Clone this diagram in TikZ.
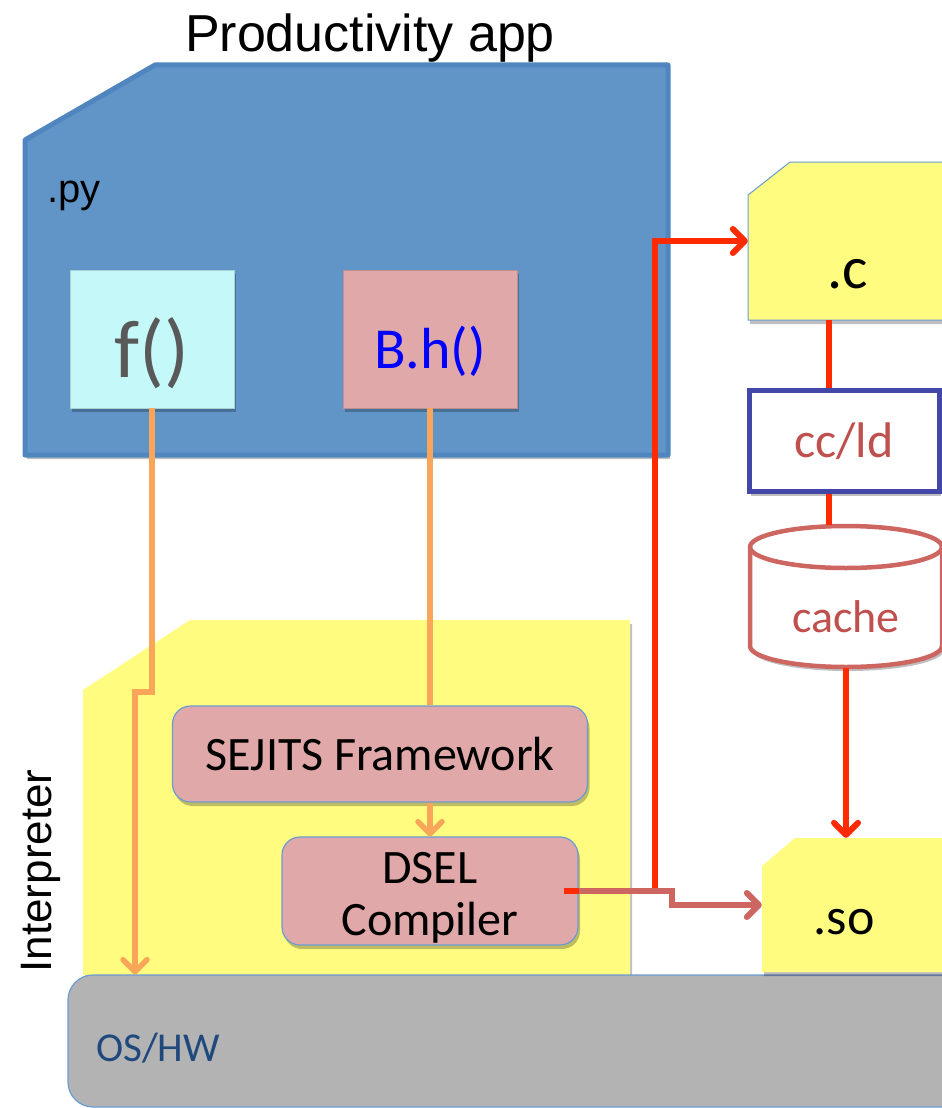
\documentclass[tikz,border=0pt]{standalone}
\usepackage{fontspec}
\setmainfont{Carlito}
\newfontfamily\arialfont{Liberation Sans}
\usetikzlibrary{arrows.meta,shadows}

\definecolor{pyblue}{HTML}{6195C8}
\definecolor{pyedge}{HTML}{5086BF}
\definecolor{fileyellow}{HTML}{FFFC7F}
\definecolor{funccyan}{HTML}{C5F8F8}
\definecolor{dselpink}{HTML}{E0A8A8}
\definecolor{thinblue}{HTML}{6A9BD2}
\definecolor{jitorange}{HTML}{F9A55A}
\definecolor{buildred}{HTML}{FF2A00}
\definecolor{linkrose}{HTML}{CD6560}
\definecolor{ccnavy}{HTML}{4348A8}
\definecolor{cctext}{HTML}{C0504D}
\definecolor{hwgray}{HTML}{B3B3B3}
\definecolor{hwtext}{HTML}{1F497D}
\definecolor{fgray}{HTML}{595959}

\tikzset{
  softshadow/.style={drop shadow={shadow xshift=2pt, shadow yshift=-4pt, opacity=0.25, fill=black}},
  codebox/.style={rectangle, inner sep=0pt, minimum height=138pt, softshadow},
  dselbox/.style={rectangle, rounded corners=18pt, fill=dselpink, draw=thinblue, line width=1.2pt,
    align=center, font=\fontsize{48}{52}\selectfont, softshadow},
  filebox/.style={rectangle, inner sep=0pt},
  filetext/.style={font=\fontsize{60}{60}\selectfont},
  jitlink/.style={jitorange, line width=5.5pt},
  buildlink/.style={buildred, line width=6pt},
  loadlink/.style={linkrose, line width=6pt},
}

\begin{document}
\begin{tikzpicture}[x=1pt, y=-1pt, >={Straight Barb[round, length=12pt, width=24pt]}]
    \useasboundingbox (0,0) rectangle (942,1108);

    \node[font=\arialfont\fontsize{52}{60}\selectfont] (title) at (370,38) {Productivity app};

    % .py file
    \filldraw[fill=pyblue, draw=pyedge, line width=5pt, line join=round, softshadow]
        (25,140) -- (155,65) -- (668,65) -- (668,455) -- (25,455) -- cycle;
    \node[font=\arialfont\fontsize{40}{48}\selectfont, anchor=base west, inner sep=0pt] (py) at (47,202) {.py};
    \node[codebox, fill=funccyan, draw=funccyan!85!black, minimum width=164pt,
        label={[text=fgray, font=\fontsize{82}{82}\selectfont, yshift=-14pt]center:f()}] (f) at (152,339) {};
    \node[codebox, fill=dselpink, draw=dselpink!85!black, minimum width=174pt,
        label={[text=blue, font=\fontsize{58}{58}\selectfont, yshift=-12pt]center:B.h()}] (bh) at (430,339) {};

    % interpreter
    \fill[fileyellow, softshadow] (83,690) -- (190,620) -- (630,620) -- (630,975) -- (83,975) -- cycle;
    \node[dselbox, minimum width=415pt, minimum height=96pt] (sejits) at (380,754) {SEJITS Framework};
    \node[dselbox, minimum width=296pt, minimum height=107pt, inner ysep=0pt,
        text height=98pt, text depth=10pt] (dsel) at (430,891) {DSEL\\Compiler};
    \node[rotate=90, font=\arialfont\fontsize{44}{48}\selectfont] (interp) at (41,871) {Interpreter};

    % OS/HW
    \node[rectangle, rounded corners=25pt, fill=hwgray, draw=thinblue, line width=1.2pt,
        minimum width=900pt, minimum height=132pt] (os) at (518,1041) {};
    \node[anchor=west, text=hwtext, font=\fontsize{41}{41}\selectfont, inner sep=0pt] (oslabel) at (96,1048) {OS/HW};

    % .c -> cc/ld -> cache -> .so
    \filldraw[fill=fileyellow, draw=thinblue, line width=1pt, softshadow]
        (748,195) -- (790,162) -- (950,162) -- (950,320) -- (748,320) -- cycle;
    \node[filebox, minimum width=202pt, minimum height=158pt] (cfile) at (849,241) {};
    \node[filetext] (ctext) at (848,274) {.c};
    \node[rectangle, fill=white, draw=ccnavy, line width=5pt, minimum width=190pt, minimum height=101pt,
        text=cctext, font=\fontsize{50}{50}\selectfont, softshadow] (ccld) at (844,441) {cc/ld};
    \filldraw[fill=white, draw=linkrose, line width=4.5pt, softshadow]
        (750,547) -- (750,646) arc[start angle=180, end angle=0, x radius=96, y radius=21]
        -- (942,547) arc[start angle=0, end angle=-180, x radius=96, y radius=21] -- cycle;
    \draw[linkrose, line width=4.5pt] (750,547) arc[start angle=180, end angle=0, x radius=96, y radius=21];
    \node[filebox, minimum width=192pt, minimum height=143pt] (cache) at (846,596.5) {};
    \node[text=cctext, font=\fontsize{46}{46}\selectfont] (cachetext) at (846,617) {cache};
    \fill[fileyellow, softshadow] (762,866) -- (795,838) -- (950,838) -- (950,972) -- (762,972) -- cycle;
    \node[filebox, minimum width=188pt, minimum height=134pt] (sofile) at (856,905) {};
    \node[font=\fontsize{52}{52}\selectfont] (sotext) at (844,922) {.so};

    \coordinate (ctap) at (829,0);
    \coordinate (split) at (655,891);
    \coordinate (jog) at (672,898);
    \coordinate (fbend) at (135,692);

    \draw[jitlink, ->] (f.south) |- (fbend) -- (fbend |- os.north);
    \draw[jitlink] (bh.south) -- (bh.south |- sejits.north);
    \draw[jitlink, ->] (sejits.south -| dsel.north) -- (dsel.north);
    \draw[buildlink, ->, shorten <=-15pt] (dsel.east) -- (split) |- (cfile.west);
    \draw[loadlink, ->] (dsel.east) -| (jog) |- (sofile.west);
    \draw[buildlink] (cfile.south -| ctap) -- (ccld.north -| ctap);
    \draw[buildlink] (ccld.south -| ctap) -- (cache.north -| ctap);
    \draw[buildlink, ->] (cache.south) -- (cache.south |- sofile.north);
\end{tikzpicture}
\end{document}
